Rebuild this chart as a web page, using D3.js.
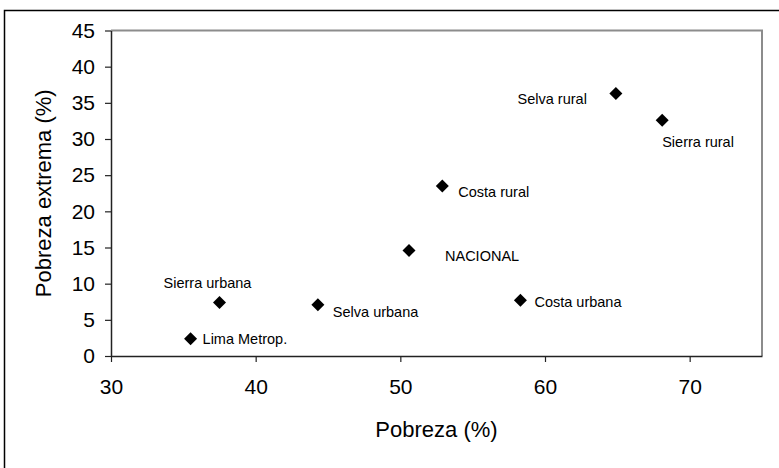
<!DOCTYPE html>
<html>
<head>
<meta charset="utf-8">
<script src="https://cdn.jsdelivr.net/npm/d3@7"></script>
<style>
  html, body { margin: 0; padding: 0; background: #fff; }
  svg { display: block; font-family: "Liberation Sans", Arial, sans-serif; }
</style>
</head>
<body>
<svg id="chart" width="779" height="468"></svg>
<script>
// ---- data ----
const regions = ["Lima Metrop.", "Sierra urbana", "Selva urbana", "NACIONAL", "Costa urbana", "Costa rural", "Selva rural", "Sierra rural"];
const pobreza = [35.5, 37.5, 44.3, 50.6, 58.3, 52.9, 64.9, 68.1];
const pobrezaExtrema = [2.4, 7.4, 7.1, 14.6, 7.7, 23.5, 36.3, 32.6];
const xTicks = [30, 40, 50, 60, 70];
const yTicks = [0, 5, 10, 15, 20, 25, 30, 35, 40, 45];
const xTitle = "Pobreza (%)";
const yTitle = "Pobreza extrema (%)";

// label placement relative to each marker (layout only)
const labelLayout = [
  { dx: 12, dy: 5, anchor: "start" },
  { dx: -12, dy: -14, anchor: "middle" },
  { dx: 15, dy: 12, anchor: "start" },
  { dx: 36, dy: 11, anchor: "start" },
  { dx: 14, dy: 7, anchor: "start" },
  { dx: 16, dy: 11, anchor: "start" },
  { dx: -29, dy: 11, anchor: "end" },
  { dx: 0, dy: 27, anchor: "start" }
];

const svg = d3.select("#chart");
const L = 111, R = 762, T = 30.5, B = 356;

// outer frame (extends beyond the visible area on right/bottom)
svg.append("rect")
  .attr("x", 4.5).attr("y", 10.5).attr("width", 800).attr("height", 500)
  .attr("fill", "none").attr("stroke", "#000").attr("stroke-width", 1.5);

const x = d3.scaleLinear().domain([30, 75]).range([L, R]);
const y = d3.scaleLinear().domain([0, 45]).range([B, T]);

// top/right plot border in gray
svg.append("path")
  .attr("d", `M${L},${T}H${R}V${B}`)
  .attr("fill", "none").attr("stroke", "#8c8c8c").attr("stroke-width", 2);

// y axis
const yAxis = svg.append("g")
  .attr("transform", `translate(${L},0)`)
  .call(d3.axisLeft(y).tickValues(yTicks).tickSize(6).tickPadding(10).tickSizeOuter(0));
// x axis
const xAxis = svg.append("g")
  .attr("transform", `translate(0,${B})`)
  .call(d3.axisBottom(x).tickValues(xTicks).tickSize(6).tickPadding(17).tickSizeOuter(0));

[yAxis, xAxis].forEach(g => {
  g.select(".domain").attr("stroke", "#222").attr("stroke-width", 1.5);
  g.selectAll(".tick line").attr("stroke", "#222").attr("stroke-width", 1.2);
  g.selectAll(".tick text")
    .attr("font-family", "'Liberation Sans', Arial, sans-serif")
    .attr("font-size", 21).attr("fill", "#000");
});

// axis titles
svg.append("text")
  .attr("x", (L + R) / 2).attr("y", 437)
  .attr("text-anchor", "middle").attr("font-size", 22).attr("fill", "#000")
  .text(xTitle);
svg.append("text")
  .attr("transform", `translate(51,${(T + B) / 2}) rotate(-90)`)
  .attr("text-anchor", "middle").attr("font-size", 22).attr("fill", "#000")
  .text(yTitle);

// points
const data = regions.map((r, i) => ({ name: r, px: pobreza[i], py: pobrezaExtrema[i], lay: labelLayout[i] }));
const s = 6.5;
svg.append("g").selectAll("path").data(data).join("path")
  .attr("d", d => {
    const cx = x(d.px), cy = y(d.py);
    return `M${cx},${cy - s}L${cx + s},${cy}L${cx},${cy + s}L${cx - s},${cy}Z`;
  })
  .attr("fill", "#000");

svg.append("g").selectAll("text").data(data).join("text")
  .attr("x", d => x(d.px) + d.lay.dx)
  .attr("y", d => y(d.py) + d.lay.dy)
  .attr("text-anchor", d => d.lay.anchor)
  .attr("font-size", 14.5).attr("fill", "#000")
  .text(d => d.name);
</script>
</body>
</html>
